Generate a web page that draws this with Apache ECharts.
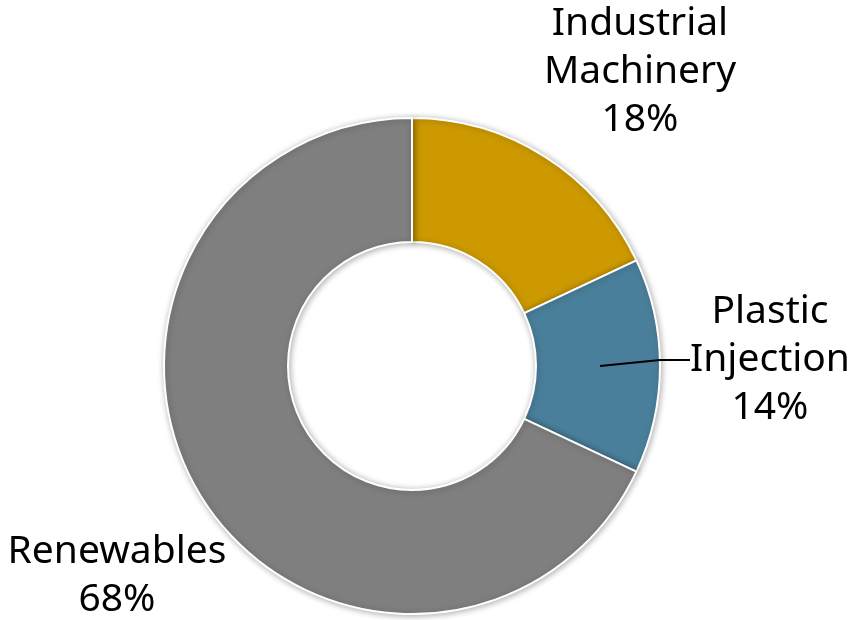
<!DOCTYPE html>
<html>
<head>
<meta charset="utf-8">
<script src="https://cdn.jsdelivr.net/npm/echarts@6/dist/echarts.min.js"></script>
<style>
  html, body { margin: 0; padding: 0; background: #fff; }
  #main { width: 855px; height: 620px; }
</style>
</head>
<body>
<div id="main"></div>
<script>
const CATEGORIES = ['Industrial\nMachinery', 'Plastic\nInjection', 'Renewables'];
const VALUES = [18, 14, 68];
const COLORS = ['#CC9900', '#4A7F9B', '#7F7F7F'];
// where each label sits (centre of text block)
const LABEL_POS = [[640, 72], [770, 360], [117, 576]];

var myChart = echarts.init(document.getElementById('main'), null, { renderer: 'canvas' });

let option = {
  backgroundColor: '#fff',
  animation: false,
  series: [
    {
      // the visible ring
      type: 'pie',
      center: [412, 366],
      radius: [124, 248],
      startAngle: 90,
      clockwise: true,
      silent: true,
      itemStyle: {
        borderColor: '#fff',
        borderWidth: 2,
        shadowBlur: 6,
        shadowColor: 'rgba(0,0,0,0.3)',
        shadowOffsetX: 1,
        shadowOffsetY: 1
      },
      label: { show: false },
      labelLine: { show: false },
      data: CATEGORIES.map((name, i) => ({
        name: name,
        value: VALUES[i],
        itemStyle: { color: COLORS[i] }
      }))
    },
    {
      // invisible inner ring that carries the labels, so the leader starts mid-slice
      type: 'pie',
      center: [412, 366],
      radius: [124, 188],
      startAngle: 90,
      clockwise: true,
      silent: true,
      z: 3,
      itemStyle: { color: 'transparent', borderWidth: 0 },
      label: {
        show: true,
        formatter: '{b}\n{c}%',
        fontFamily: 'Noto Sans',
        fontSize: 39,
        lineHeight: 48,
        color: '#000',
        align: 'center',
        overflow: 'none'
      },
      labelLine: { show: false },
      labelLayout: function (params) {
        const p = LABEL_POS[params.dataIndex];
        return {
          x: p[0],
          y: p[1],
          align: 'center',
          verticalAlign: 'middle'
        };
      },
      data: CATEGORIES.map((name, i) => ({
        name: name,
        value: VALUES[i],
        labelLine: i === 1 ? { show: true, lineStyle: { color: '#000', width: 2 } } : { show: false }
      }))
    }
  ]
};
option && myChart.setOption(option);
</script>
</body>
</html>
